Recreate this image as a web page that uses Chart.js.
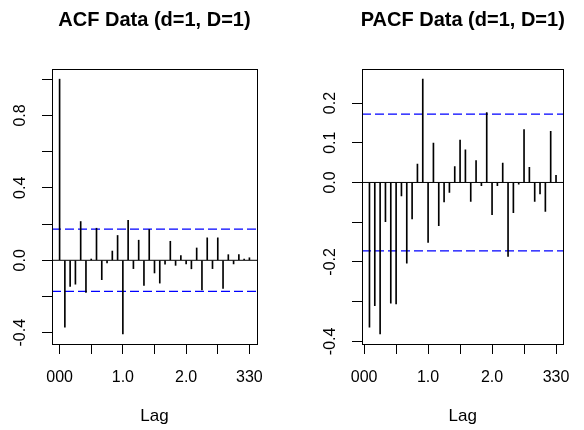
<!DOCTYPE html>
<html>
<head>
<meta charset="utf-8">
<title>ACF / PACF Data (d=1, D=1)</title>
<script src="https://cdn.jsdelivr.net/npm/chart.js@4"></script>
<style>
  html, body { margin: 0; padding: 0; background: #fff; }
  #wrap { position: relative; width: 584px; height: 430px; }
  .panel { position: absolute; top: 0; width: 292px; height: 430px; }
</style>
</head>
<body>
<div id="wrap">
  <div class="panel" style="left:0"><canvas id="acfCanvas" width="292" height="430"></canvas></div>
  <div class="panel" style="left:292px"><canvas id="pacfCanvas" width="292" height="430"></canvas></div>
</div>
<script>
// --- Data ---
const lagsPerSeason = 12;

// ACF, lags 0..36
const acfValues = [
  1.0, -0.369, -0.144, -0.132, 0.214, -0.177, 0.007, 0.177, -0.107, -0.015,
  0.051, 0.137, -0.406, 0.221, -0.046, 0.111, -0.139, 0.170, -0.070, -0.126,
  -0.021, 0.105, -0.028, 0.026, -0.020, -0.047, 0.068, -0.163, 0.124, -0.046,
  0.124, -0.156, 0.031, -0.020, 0.031, 0.007, 0.014
];

// PACF, lags 1..36
const pacfValues = [
  -0.364, -0.310, -0.381, -0.099, -0.304, -0.306, -0.034, -0.203, -0.092, 0.046,
  0.260, -0.151, 0.099, -0.109, -0.049, -0.025, 0.040, 0.107, 0.082, -0.048,
  0.055, -0.008, 0.176, -0.081, -0.008, 0.049, -0.186, -0.076, -0.004, 0.133,
  0.038, -0.048, -0.029, -0.073, 0.129, 0.018
];

const ciLevel = 0.172;

const lagTicks = [0, 0.5, 1, 1.5, 2, 2.5, 3];
const lagTickLabels = ['000', '', '1.0', '', '2.0', '', '330'];

const acfYTicks = [-0.4, -0.2, 0, 0.2, 0.4, 0.6, 0.8, 1.0];
const acfYLabels = ['-0.4', '', '0.0', '', '0.4', '', '0.8', ''];

const pacfYTicks = [-0.4, -0.3, -0.2, -0.1, 0, 0.1, 0.2];
const pacfYLabels = ['-0.4', '', '-0.2', '', '0.0', '0.1', '0.2'];

const fontFamily = "'Liberation Sans', Arial, sans-serif";

// R style range: data range widened by 4%
function rRange(vals) {
    const lo = Math.min(...vals), hi = Math.max(...vals);
    const d = (hi - lo) * 0.04;
    return [lo - d, hi + d];
}

// box, rotated y labels and main title like base R graphics
const rDecor = {
    id: 'rDecor',
    afterDraw(chart, args, opts) {
        const { ctx, chartArea: a } = chart;
        const yScale = chart.scales.y;
        ctx.save();
        ctx.strokeStyle = '#000';
        ctx.lineWidth = 1;
        ctx.strokeRect(Math.round(a.left) + 0.5, Math.round(a.top) + 0.5,
                       Math.round(a.right - a.left), Math.round(a.bottom - a.top));

        ctx.fillStyle = '#000';
        ctx.textAlign = 'center';
        ctx.textBaseline = 'middle';
        ctx.font = '16px ' + fontFamily;
        opts.yTicks.forEach((v, i) => {
            if (!opts.yLabels[i]) return;
            ctx.save();
            ctx.translate(a.left - 31, yScale.getPixelForValue(v));
            ctx.rotate(-Math.PI / 2);
            ctx.fillText(opts.yLabels[i], 0, 0);
            ctx.restore();
        });

        ctx.font = 'bold 20px ' + fontFamily;
        ctx.fillText(opts.title, (a.left + a.right) / 2, 20);
        ctx.restore();
    }
};

function makeCorrChart(canvasId, title, firstLag, values, yTicks, yLabels, area) {
    const points = values.map((v, i) => ({ x: (firstLag + i) / lagsPerSeason, y: v }));
    const [xMin, xMax] = rRange(points.map(p => p.x));
    const [yMin, yMax] = rRange(values.concat([ciLevel, -ciLevel]));

    new Chart(document.getElementById(canvasId), {
        type: 'bar',
        data: {
            datasets: [
                {
                    type: 'bar',
                    data: points,
                    backgroundColor: '#000',
                    borderWidth: 0,
                    barThickness: 1
                },
                {
                    type: 'line',
                    data: [{ x: xMin, y: 0 }, { x: xMax, y: 0 }],
                    borderColor: '#000',
                    borderWidth: 1,
                    pointRadius: 0
                },
                {
                    type: 'line',
                    data: [{ x: xMin, y: ciLevel }, { x: xMax, y: ciLevel }],
                    borderColor: '#0000ff',
                    borderWidth: 1.2,
                    borderDash: [9, 4],
                    pointRadius: 0
                },
                {
                    type: 'line',
                    data: [{ x: xMin, y: -ciLevel }, { x: xMax, y: -ciLevel }],
                    borderColor: '#0000ff',
                    borderWidth: 1.2,
                    borderDash: [9, 4],
                    pointRadius: 0
                }
            ]
        },
        options: {
            responsive: false,
            animation: false,
            layout: { padding: { top: area.top, right: area.right, left: 0, bottom: 0 } },
            plugins: {
                legend: { display: false },
                tooltip: { enabled: false },
                rDecor: { title: title, yTicks: yTicks, yLabels: yLabels }
            },
            scales: {
                x: {
                    type: 'linear',
                    min: xMin,
                    max: xMax,
                    offset: false,
                    afterBuildTicks: s => { s.ticks = lagTicks.map(v => ({ value: v })); },
                    afterFit: s => { s.height = area.bottom; },
                    grid: { drawOnChartArea: false, drawTicks: true, tickLength: 10, color: '#000', offset: false },
                    border: { display: false },
                    ticks: {
                        autoSkip: false,
                        maxRotation: 0,
                        padding: 14,
                        color: '#000',
                        font: { family: fontFamily, size: 16 },
                        callback: v => lagTickLabels[lagTicks.indexOf(v)] || ''
                    },
                    title: {
                        display: true,
                        text: 'Lag',
                        color: '#000',
                        font: { family: fontFamily, size: 17 },
                        padding: { top: 0, bottom: 3 }
                    }
                },
                y: {
                    min: yMin,
                    max: yMax,
                    afterBuildTicks: s => { s.ticks = yTicks.map(v => ({ value: v })); },
                    afterFit: s => { s.width = area.left; },
                    grid: { drawOnChartArea: false, drawTicks: true, tickLength: 10, color: '#000' },
                    border: { display: false },
                    ticks: { display: false }
                }
            }
        },
        plugins: [rDecor]
    });
}

makeCorrChart('acfCanvas', 'ACF Data (d=1, D=1)', 0, acfValues, acfYTicks, acfYLabels,
              { left: 52, right: 35, top: 69, bottom: 86 });
makeCorrChart('pacfCanvas', 'PACF Data (d=1, D=1)', 1, pacfValues, pacfYTicks, pacfYLabels,
              { left: 70, right: 17, top: 69, bottom: 86 });
</script>
</body>
</html>
